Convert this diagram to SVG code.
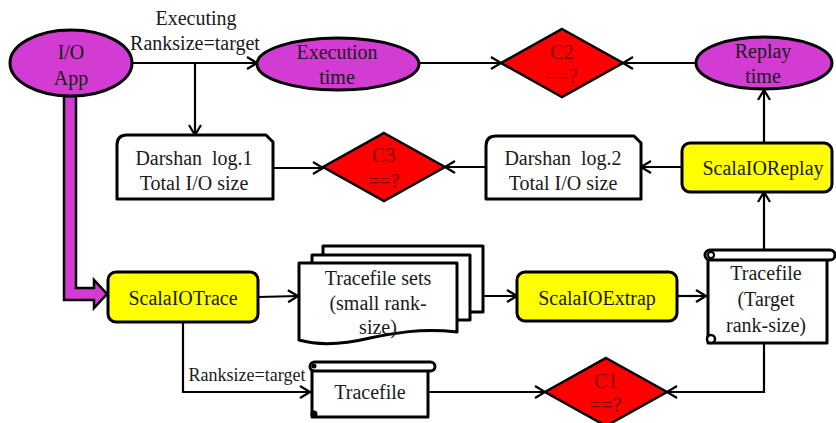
<svg xmlns="http://www.w3.org/2000/svg" width="836" height="423" viewBox="0 0 836 423">
  <defs>
    <marker id="arr" markerUnits="userSpaceOnUse" markerWidth="14" markerHeight="14" refX="11" refY="6" orient="auto" overflow="visible">
      <path d="M1,0 L11,6 L1,12" fill="none" stroke="#000" stroke-width="2.2"/>
    </marker>
  </defs>
  <style>
    text { font-family: "Liberation Serif", "Times New Roman", serif; font-size: 20px; fill: #1a1a1a; text-anchor: middle; }
    .small { font-size: 18px; }
    .cmp { fill: #800000; }
    .oval { fill: #d23cd2; stroke: #000; stroke-width: 3; }
    .proc { fill: #ffff00; stroke: #000; stroke-width: 3; }
    .dec { fill: #ff0000; stroke: #000; stroke-width: 2.5; }
    .doc { fill: #fff; stroke: #000; stroke-width: 3; stroke-linejoin: round; }
    .link { fill: none; stroke: #000; stroke-width: 2.2; marker-end: url(#arr); }
  </style>
  <rect width="836" height="423" fill="#fff"/>

  <!-- thick magenta feed from the application into the tracer -->
  <g id="app-to-trace">
    <path d="M64,96 L64,300 L94,300 L94,308 L107,294 L94,280 L94,288 L76,288 L76,96 Z" fill="#d23cd2" stroke="#000" stroke-width="2.5" stroke-linejoin="miter"/>
  </g>

  <g id="connectors">
    <path class="link" d="M133,63 L257,63"/>
    <path class="link" d="M195,63 L195,135"/>
    <path class="link" d="M419,63 L501,63"/>
    <path class="link" d="M696,63 L623,63"/>
    <path class="link" d="M764,143 L764,90"/>
    <path class="link" d="M273,168 L323,168"/>
    <path class="link" d="M486,167 L445,167"/>
    <path class="link" d="M682,167 L641,167"/>
    <path class="link" d="M764,250 L764,192"/>
    <path class="link" d="M258,297 L298,296"/>
    <path class="link" d="M483,296 L517,296"/>
    <path class="link" d="M677,296 L706,296"/>
    <path class="link" d="M764,343 L764,392 L667,392"/>
    <path class="link" d="M183,322 L183,392 L310,392"/>
    <path class="link" d="M428,392 L545,392"/>
    <text x="196" y="25">Executing</text>
    <text x="195" y="50">Ranksize=target</text>
    <text class="small" x="247" y="381">Ranksize=target</text>
  </g>

  <g id="io-app">
    <ellipse class="oval" cx="71" cy="63" rx="61" ry="33"/>
    <text x="71" y="59">I/O</text>
    <text x="71" y="85">App</text>
  </g>

  <g id="execution-time">
    <ellipse class="oval" cx="338" cy="64" rx="81" ry="26"/>
    <text x="337" y="59">Execution</text>
    <text x="337" y="84">time</text>
  </g>

  <g id="c2">
    <polygon class="dec" points="562,29 623,63 562,97 501,63"/>
    <text class="cmp" x="562" y="59">C2</text>
    <text class="cmp" x="562" y="83">==?</text>
  </g>

  <g id="replay-time">
    <ellipse class="oval" cx="764" cy="63" rx="68" ry="26"/>
    <text x="763" y="58">Replay</text>
    <text x="763" y="83">time</text>
  </g>

  <g id="darshan-log1">
    <path class="doc" d="M117,199 L117,145 Q117,135 127,135 L266,135 L273,142 L273,199 Z"/>
    <text x="194" y="165">Darshan&#160; log.1</text>
    <text x="194" y="190">Total I/O size</text>
  </g>

  <g id="c3">
    <polygon class="dec" points="384,133 445,167 384,201 323,167"/>
    <text class="cmp" x="384" y="162">C3</text>
    <text class="cmp" x="384" y="188">==?</text>
  </g>

  <g id="darshan-log2">
    <path class="doc" d="M486,199 L486,146 Q486,136 496,136 L634,136 L641,143 L641,199 Z"/>
    <text x="563" y="165">Darshan&#160; log.2</text>
    <text x="563" y="190">Total I/O size</text>
  </g>

  <g id="scalaio-replay">
    <rect class="proc" x="682" y="143" width="150" height="49" rx="8"/>
    <text x="763" y="175">ScalaIOReplay</text>
  </g>

  <g id="scalaio-trace">
    <rect class="proc" x="108" y="272" width="150" height="50" rx="8"/>
    <text x="183" y="305">ScalaIOTrace</text>
  </g>

  <g id="tracefile-sets">
    <rect class="doc" x="323" y="246" width="160" height="66"/>
    <rect class="doc" x="312" y="255" width="158" height="65"/>
    <path class="doc" d="M299,263 L457,263 L457,332 C420,328 395,333 370,338 C345,344 320,346 299,340 Z"/>
    <text x="378" y="285">Tracefile sets</text>
    <text x="378" y="310">(small rank-</text>
    <text x="378" y="334">size)</text>
  </g>

  <g id="scalaio-extrap">
    <rect class="proc" x="517" y="272" width="160" height="49" rx="8"/>
    <text x="597" y="305">ScalaIOExtrap</text>
  </g>

  <g id="tracefile-target">
    <path class="doc" d="M708,256 L708,343 L827,343 L827,258"/>
    <rect class="doc" x="705" y="250" width="130" height="10" rx="5"/>
    <circle cx="711" cy="255" r="3" fill="none" stroke="#000" stroke-width="2"/>
    <circle cx="711" cy="339" r="4" fill="#fff" stroke="#000" stroke-width="2.5"/>
    <text x="766" y="280">Tracefile</text>
    <text x="766" y="306">(Target</text>
    <text x="766" y="332">rank-size)</text>
  </g>

  <g id="tracefile">
    <path class="doc" d="M312,367 L312,417 L428,417 L428,369"/>
    <rect class="doc" x="310" y="362" width="125" height="9" rx="4.5"/>
    <circle cx="314" cy="366" r="2.5" fill="#000"/>
    <circle cx="314" cy="414" r="3.5" fill="#000"/>
    <text x="370" y="399">Tracefile</text>
  </g>

  <g id="c1">
    <polygon class="dec" points="606,358 667,392 606,426 545,392"/>
    <text class="cmp" x="606" y="388">C1</text>
    <text class="cmp" x="606" y="412">==?</text>
  </g>
</svg>
